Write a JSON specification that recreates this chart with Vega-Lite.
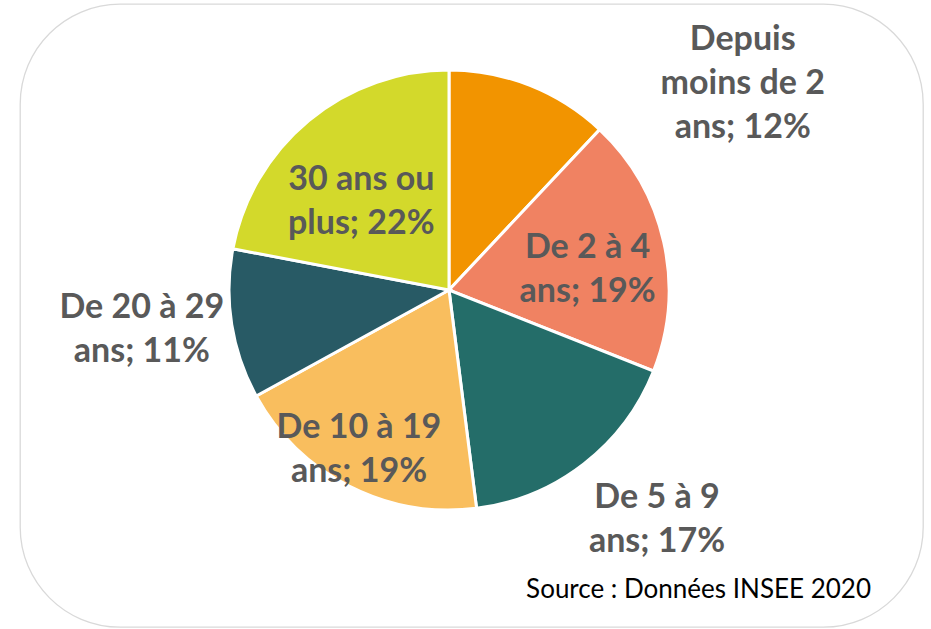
{
  "$schema": "https://vega.github.io/schema/vega-lite/v6.json",
  "width": 903,
  "height": 623,
  "autosize": {"type": "none"},
  "padding": {"left": 20, "top": 4, "right": 8, "bottom": 2},
  "background": "white",
  "view": {"stroke": "#D9D9D9", "strokeWidth": 1.3, "cornerRadius": 100, "fill": "white"},
  "config": {
    "view": {"stroke": "#D9D9D9", "strokeWidth": 1.3, "cornerRadius": 100},
    "text": {"font": "Lato", "fontWeight": "bold", "fontSize": 34, "fill": "#595959", "lineHeight": 44, "align": "center", "baseline": "middle", "lineBreak": "\n"}
  },
  "title": {
    "text": "Source : Données INSEE 2020",
    "orient": "bottom",
    "anchor": "end",
    "offset": -50,
    "dx": -52,
    "font": "Lato",
    "fontSize": 26,
    "fontWeight": "normal",
    "color": "#000000"
  },
  "data": {
    "values": [
      {"ordre": 1, "categorie": "Depuis moins de 2 ans", "libelle": "Depuis\nmoins de 2\nans", "part": 12},
      {"ordre": 2, "categorie": "De 2 à 4 ans", "libelle": "De 2 à 4\nans", "part": 19},
      {"ordre": 3, "categorie": "De 5 à 9 ans", "libelle": "De 5 à 9\nans", "part": 17},
      {"ordre": 4, "categorie": "De 10 à 19 ans", "libelle": "De 10 à 19\nans", "part": 19},
      {"ordre": 5, "categorie": "De 20 à 29 ans", "libelle": "De 20 à 29\nans", "part": 11},
      {"ordre": 6, "categorie": "30 ans ou plus", "libelle": "30 ans ou\nplus", "part": 22}
    ]
  },
  "transform": [
    {"stack": "part", "groupby": [], "sort": [{"field": "ordre", "order": "ascending"}], "as": ["debut", "fin"]},
    {"calculate": "(datum.debut + datum.fin) / 2", "as": "milieu"},
    {"calculate": "datum.libelle + '; ' + datum.part + '%'", "as": "etiquette"}
  ],
  "layer": [
    {
      "mark": {"type": "arc", "outerRadius": 220, "stroke": "white", "strokeWidth": 3, "xOffset": -22.5, "yOffset": -25.5},
      "encoding": {
        "theta": {"field": "debut", "type": "quantitative", "scale": {"domain": [0, 100], "range": [0, 6.283185307179586]}},
        "theta2": {"field": "fin"},
        "color": {
          "field": "categorie",
          "type": "nominal",
          "sort": ["Depuis moins de 2 ans", "De 2 à 4 ans", "De 5 à 9 ans", "De 10 à 19 ans", "De 20 à 29 ans", "30 ans ou plus"],
          "scale": {"range": ["#F29400", "#F08262", "#246D69", "#F9BE5E", "#285A65", "#D3D92B"]},
          "legend": null
        }
      }
    },
    {
      "transform": [{"filter": "datum.ordre == 1"}],
      "mark": {"type": "text", "radius": 222, "dx": 212, "dy": -44, "xOffset": -22.5, "yOffset": -25.5, "lineBreak": "\n"},
      "encoding": {
        "theta": {"field": "milieu", "type": "quantitative", "scale": {"domain": [0, 100], "range": [0, 6.283185307179586]}},
        "text": {"field": "etiquette", "type": "nominal"}
      }
    },
    {
      "transform": [{"filter": "datum.ordre == 2"}],
      "mark": {"type": "text", "radius": 140, "dx": 2, "dy": -11, "xOffset": -22.5, "yOffset": -25.5, "lineBreak": "\n"},
      "encoding": {
        "theta": {"field": "milieu", "type": "quantitative", "scale": {"domain": [0, 100], "range": [0, 6.283185307179586]}},
        "text": {"field": "etiquette", "type": "nominal"}
      }
    },
    {
      "transform": [{"filter": "datum.ordre == 3"}],
      "mark": {"type": "text", "radius": 310, "dx": 18, "dy": -37, "xOffset": -22.5, "yOffset": -25.5, "lineBreak": "\n"},
      "encoding": {
        "theta": {"field": "milieu", "type": "quantitative", "scale": {"domain": [0, 100], "range": [0, 6.283185307179586]}},
        "text": {"field": "etiquette", "type": "nominal"}
      }
    },
    {
      "transform": [{"filter": "datum.ordre == 4"}],
      "mark": {"type": "text", "radius": 184, "dx": -6.5, "dy": -26, "xOffset": -22.5, "yOffset": -25.5, "lineBreak": "\n"},
      "encoding": {
        "theta": {"field": "milieu", "type": "quantitative", "scale": {"domain": [0, 100], "range": [0, 6.283185307179586]}},
        "text": {"field": "etiquette", "type": "nominal"}
      }
    },
    {
      "transform": [{"filter": "datum.ordre == 5"}],
      "mark": {"type": "text", "radius": 310, "dx": -1, "dy": -30.5, "xOffset": -22.5, "yOffset": -25.5, "lineBreak": "\n"},
      "encoding": {
        "theta": {"field": "milieu", "type": "quantitative", "scale": {"domain": [0, 100], "range": [0, 6.283185307179586]}},
        "text": {"field": "etiquette", "type": "nominal"}
      }
    },
    {
      "transform": [{"filter": "datum.ordre == 6"}],
      "mark": {"type": "text", "radius": 125, "dx": -8, "dy": -14, "xOffset": -22.5, "yOffset": -25.5, "lineBreak": "\n"},
      "encoding": {
        "theta": {"field": "milieu", "type": "quantitative", "scale": {"domain": [0, 100], "range": [0, 6.283185307179586]}},
        "text": {"field": "etiquette", "type": "nominal"}
      }
    }
  ]
}
